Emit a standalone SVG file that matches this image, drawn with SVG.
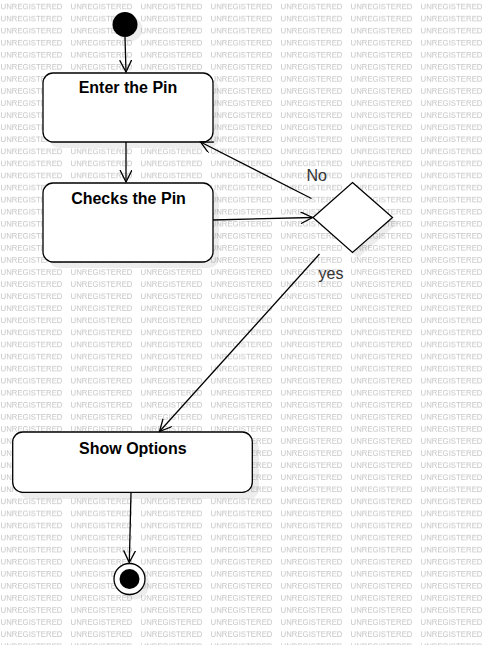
<svg xmlns="http://www.w3.org/2000/svg" width="487" height="645" viewBox="0 0 487 645">
<style>
.wm{font-family:"Liberation Sans",Arial,sans-serif;font-size:8px;fill:#c4c4c4}
.box{fill:#fff;stroke:#000;stroke-width:1.3}
.sh{fill:#000;opacity:0.07}
.lbl{font-family:"Liberation Sans",Arial,sans-serif;font-size:16px;font-weight:bold;fill:#000;text-anchor:middle}
.gl{font-family:"Liberation Sans",Arial,sans-serif;font-size:16px;fill:#333}
.edge{fill:none;stroke:#000;stroke-width:1.3}
</style>
<defs>
<pattern id="wmp" patternUnits="userSpaceOnUse" x="0" y="0" width="70" height="12.07">
<text class="wm" x="0.5" y="9" textLength="62" lengthAdjust="spacingAndGlyphs">UNREGISTERED</text>
</pattern>
<marker id="arr" markerUnits="userSpaceOnUse" markerWidth="14" markerHeight="14" refX="12" refY="6" orient="auto">
<path d="M0,0 L12,6 L0,12" fill="none" stroke="#000" stroke-width="1.3"/>
</marker>
</defs>
<rect x="0" y="0" width="487" height="645" fill="#fff"/>
<rect x="0" y="0" width="487" height="645" fill="url(#wmp)"/>

<g id="start">
<circle class="sh" cx="130" cy="29" r="12.5"/>
<circle cx="125" cy="24.5" r="12.5" fill="#000"/>
</g>
<g id="enter-pin">
<rect class="sh" x="49" y="79" width="170" height="69" rx="10"/>
<rect class="box" x="43" y="73" width="170" height="69" rx="10"/>
<text class="lbl" x="128" y="93">Enter the Pin</text>
</g>
<g id="checks-pin">
<rect class="sh" x="49" y="189" width="170" height="79" rx="10"/>
<rect class="box" x="43" y="183" width="170" height="79" rx="10"/>
<text class="lbl" x="128.5" y="204">Checks the Pin</text>
</g>
<g id="decision">
<polygon class="sh" points="358,188 398,223 358,258 319,223"/>
<polygon class="box" points="352.5,182.5 392.5,217.5 352.5,252.5 313,217.5"/>
</g>
<g id="show-options">
<rect class="sh" x="19" y="438" width="240" height="61" rx="10"/>
<rect class="box" x="12.7" y="432" width="239.6" height="60.3" rx="10"/>
<text class="lbl" x="132.8" y="453.5">Show Options</text>
</g>
<g id="end">
<circle class="sh" cx="134" cy="584" r="15.5"/>
<circle cx="129.5" cy="579" r="15.5" fill="#fff" stroke="#000" stroke-width="1.3"/>
<circle cx="129.5" cy="579" r="10" fill="#000"/>
</g>

<g id="connectors">
<line class="edge" x1="125" y1="37" x2="126" y2="72" marker-end="url(#arr)"/>
<line class="edge" x1="126" y1="142" x2="126" y2="182" marker-end="url(#arr)"/>
<line class="edge" x1="213" y1="220" x2="312.5" y2="217.5" stroke-width="1.8" marker-end="url(#arr)"/>
<line class="edge" x1="311.5" y1="198.5" x2="200.5" y2="142" marker-end="url(#arr)"/>
<line class="edge" x1="319.5" y1="254" x2="159.5" y2="431.5" marker-end="url(#arr)"/>
<line class="edge" x1="131" y1="492.5" x2="129.3" y2="562.5" marker-end="url(#arr)"/>
<text class="gl" x="306.5" y="181">No</text>
<text class="gl" x="318.5" y="279">yes</text>
</g>
</svg>
